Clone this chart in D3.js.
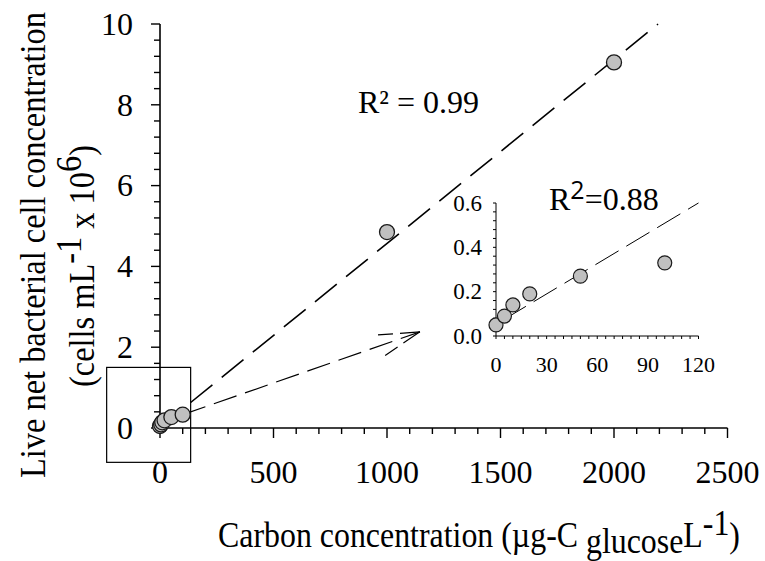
<!DOCTYPE html>
<html><head><meta charset="utf-8">
<script src="https://cdn.jsdelivr.net/npm/d3@7"></script>
<style>
html,body{margin:0;padding:0;background:#fff;}
svg{display:block;}
text{font-family:"Liberation Serif","Times New Roman",serif;fill:#000;}
</style></head>
<body>
<svg id="chart" width="765" height="561"></svg>
<script>
// ---- data ----
const concX = [0, 5, 10, 20, 50, 100, 1000, 2000];            // µg-C L-1
const cellsY = [0.05, 0.09, 0.14, 0.19, 0.27, 0.33, 4.85, 9.05]; // x10^6 cells mL-1
const insetX = [0, 5, 10, 20, 50, 100];
const insetY = [0.05, 0.09, 0.14, 0.19, 0.27, 0.33];
const mainFit = [0.00455, 0.017];      // slope, intercept
const mainFitRange = [135, 2194];
const insetFit = [0.00456, 0.053];
const insetFitRange = [4, 120];
const mainXTicks = [0, 500, 1000, 1500, 2000, 2500];
const mainYTicks = [0, 2, 4, 6, 8, 10];
const insetXTicks = [0, 30, 60, 90, 120];
const insetYTicks = [0.0, 0.2, 0.4, 0.6];
const zoomBox = [[-235, 135], [-0.85, 1.5]];   // data coords of the highlight box
const arrowFrom = [100, 0.33], arrowTo = [1145, 2.38];

const svg = d3.select("#chart");

// ---- main scales ----
const x = d3.scaleLinear().domain([0, 2500]).range([160, 727.5]);
const y = d3.scaleLinear().domain([0, 10]).range([428, 24]);

// axes
const gx = svg.append("g").attr("transform", `translate(0,${y(0)})`);
gx.append("line").attr("x1", x(0)).attr("x2", x(2500)).attr("stroke", "#000").attr("stroke-width", 1.6);
gx.selectAll("line.minor").data(d3.range(0, 2501, 100)).join("line")
  .attr("x1", d => x(d)).attr("x2", d => x(d)).attr("y1", 0)
  .attr("y2", d => d % 500 === 0 ? 10 : 6).attr("stroke", "#000").attr("stroke-width", 1.4);
gx.selectAll("text").data(mainXTicks).join("text")
  .attr("x", d => x(d)).attr("y", 55).attr("text-anchor", "middle")
  .attr("transform", "")
  .style("font-size", "32px").text(d => d);

const gy = svg.append("g").attr("transform", `translate(${x(0)},0)`);
gy.append("line").attr("y1", y(0)).attr("y2", y(10)).attr("stroke", "#000").attr("stroke-width", 1.6);
gy.selectAll("line.minor").data(d3.range(0, 26).map(i => i * 0.4)).join("line")
  .attr("y1", d => y(d)).attr("y2", d => y(d)).attr("x1", 0)
  .attr("x2", (d, i) => i % 5 === 0 ? -9 : -6)
  .attr("stroke", "#000").attr("stroke-width", 1.4);
gy.selectAll("text").data(mainYTicks).join("text")
  .attr("x", -27).attr("y", d => y(d)).attr("dy", "0.34em").attr("text-anchor", "end")
  .style("font-size", "32px").text(d => d);

// highlight box
svg.append("rect")
  .attr("x", x(zoomBox[0][0])).attr("y", y(zoomBox[1][1]))
  .attr("width", x(zoomBox[0][1]) - x(zoomBox[0][0]))
  .attr("height", y(zoomBox[1][0]) - y(zoomBox[1][1]))
  .attr("fill", "none").attr("stroke", "#000").attr("stroke-width", 1.2);

// main fit line
svg.append("line")
  .attr("x1", x(mainFitRange[0])).attr("y1", y(mainFit[0] * mainFitRange[0] + mainFit[1]))
  .attr("x2", x(mainFitRange[1])).attr("y2", y(mainFit[0] * mainFitRange[1] + mainFit[1]))
  .attr("stroke", "#000").attr("stroke-width", 1.6).attr("stroke-dasharray", "28,12");

// arrow
const ax1 = x(arrowFrom[0]), ay1 = y(arrowFrom[1]), ax2 = x(arrowTo[0]), ay2 = y(arrowTo[1]);
svg.append("line").attr("x1", ax1).attr("y1", ay1).attr("x2", ax2).attr("y2", ay2)
  .attr("stroke", "#000").attr("stroke-width", 1.2).attr("stroke-dasharray", "24,9");
const ang = Math.atan2(ay1 - ay2, ax1 - ax2);
[-1, 1].forEach(s => {
  const a = ang + s * 15 * Math.PI / 180;
  svg.append("line").attr("x1", ax2).attr("y1", ay2)
    .attr("x2", ax2 + 42 * Math.cos(a)).attr("y2", ay2 + 42 * Math.sin(a))
    .attr("stroke", "#000").attr("stroke-width", 1.2).attr("stroke-dasharray", "20,7");
});

// main points
svg.append("g").selectAll("circle").data(concX.map((d, i) => [d, cellsY[i]])).join("circle")
  .attr("cx", d => x(d[0])).attr("cy", d => y(d[1])).attr("r", 7.5)
  .attr("fill", "#c0c0c0").attr("stroke", "#1a1a1a").attr("stroke-width", 1.3);

// R2 main
svg.append("text").attr("x", 358).attr("y", 113).style("font-size", "32px").text("R² = 0.99");

// ---- inset ----
const xi = d3.scaleLinear().domain([0, 120]).range([496, 698.5]);
const yi = d3.scaleLinear().domain([0, 0.6]).range([336, 203]);
const ig = svg.append("g");
ig.append("line").attr("x1", xi(0)).attr("x2", xi(120)).attr("y1", yi(0)).attr("y2", yi(0)).attr("stroke", "#000").attr("stroke-width", 1);
ig.append("line").attr("x1", xi(0)).attr("x2", xi(0)).attr("y1", yi(0)).attr("y2", yi(0.6)).attr("stroke", "#000").attr("stroke-width", 1);
ig.selectAll("line.xt").data(d3.range(0, 121, 5)).join("line")
  .attr("x1", d => xi(d)).attr("x2", d => xi(d)).attr("y1", yi(0)).attr("y2", yi(0) + 3)
  .attr("stroke", "#000").attr("stroke-width", 1);
ig.selectAll("line.yt").data(d3.range(0, 16).map(i => i * 0.04)).join("line")
  .attr("x1", xi(0)).attr("x2", xi(0) - 3).attr("y1", d => yi(d)).attr("y2", d => yi(d))
  .attr("stroke", "#000").attr("stroke-width", 1);
ig.selectAll("text.xl").data(insetXTicks).join("text")
  .attr("x", d => xi(d)).attr("y", yi(0) + 36).attr("text-anchor", "middle")
  .style("font-size", "22px").text(d => d);
ig.selectAll("text.yl").data(insetYTicks).join("text")
  .attr("x", xi(0) - 14).attr("y", d => yi(d)).attr("dy", "0.34em").attr("text-anchor", "end")
  .style("font-size", "23px").text(d => d.toFixed(1));
ig.append("line")
  .attr("x1", xi(insetFitRange[0])).attr("y1", yi(insetFit[0] * insetFitRange[0] + insetFit[1]))
  .attr("x2", xi(insetFitRange[1])).attr("y2", yi(insetFit[0] * insetFitRange[1] + insetFit[1]))
  .attr("stroke", "#000").attr("stroke-width", 1).attr("stroke-dasharray", "27,9");
ig.selectAll("circle").data(insetX.map((d, i) => [d, insetY[i]])).join("circle")
  .attr("cx", d => xi(d[0])).attr("cy", d => yi(d[1])).attr("r", 7)
  .attr("fill", "#c0c0c0").attr("stroke", "#1a1a1a").attr("stroke-width", 1.2);
const r2i = svg.append("text").attr("x", 549).attr("y", 210).style("font-size", "32px");
r2i.append("tspan").text("R");
r2i.append("tspan").attr("dy", -11).style("font-family", "'Open Sans',sans-serif").style("font-size", "25px").text("2");
r2i.append("tspan").attr("dy", 11).text("=0.88");

// ---- axis titles (Liberation Serif, slightly taller glyphs to mimic the reference face) ----
const yl1 = svg.append("text").attr("transform", "translate(45,245) rotate(-90) scale(1,1.12)")
  .attr("text-anchor", "middle").style("font-size", "28px")
  .text("Live net bacterial cell concentration");
const yl2 = svg.append("text").attr("transform", "translate(94,266) rotate(-90) scale(1,1.12)")
  .attr("text-anchor", "middle").style("font-size", "28px");
yl2.append("tspan").text("(cells mL");
yl2.append("tspan").attr("dy", -12).text("-1");
yl2.append("tspan").attr("dy", 12).text(" x 10");
yl2.append("tspan").attr("dy", -12).text("6");
yl2.append("tspan").attr("dy", 12).text(")");

const xl = svg.append("text").attr("transform", "translate(479,547) scale(1,1.1)")
  .attr("text-anchor", "middle").style("font-size", "28px");
xl.append("tspan").text("Carbon concentration (µg-C ");
xl.append("tspan").attr("dy", 5).text("glucose");
xl.append("tspan").attr("dy", -5).text("L");
xl.append("tspan").attr("dy", -11).text("-1");
xl.append("tspan").attr("dy", 11).text(")");

// fit titles to measured extents of reference
function fit(sel, target) {
  const len = sel.node().getComputedTextLength();
  const fs = parseFloat(sel.style("font-size"));
  sel.style("font-size", (fs * target / len) + "px");
}
fit(yl1, 466);
fit(yl2, 242);
fit(xl, 522);
</script>
</body></html>
